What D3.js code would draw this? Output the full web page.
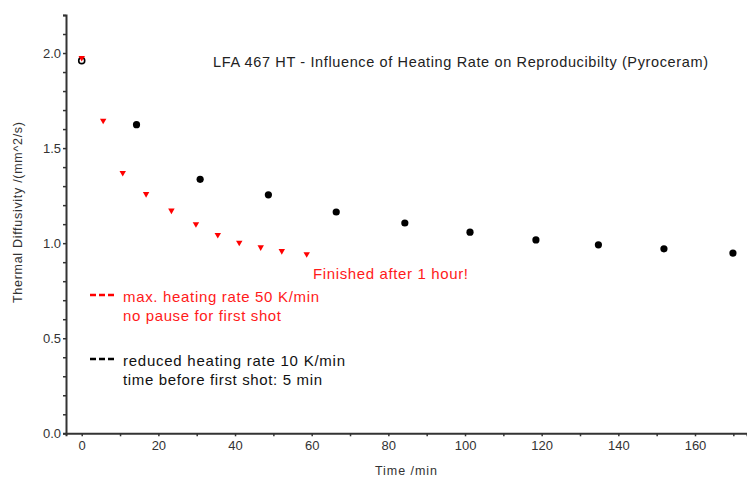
<!DOCTYPE html>
<html>
<head>
<meta charset="utf-8">
<script src="https://cdn.jsdelivr.net/npm/d3@7"></script>
<style>
  body { margin: 0; background: #fff; }
  svg text { font-family: "Liberation Sans", Arial, sans-serif; }
</style>
</head>
<body>
<div id="chart-area"></div>
<script>
// data
var fastTime = [0, 5.6, 10.7, 16.8, 23.4, 29.8, 35.5, 41.1, 46.7, 52.2, 58.7];
var fastDiff = [1.975, 1.645, 1.37, 1.259, 1.172, 1.10, 1.044, 1.003, 0.979, 0.959, 0.943];
var slowTime = [0, 14.3, 30.9, 48.7, 66.4, 84.3, 101.3, 118.5, 134.8, 151.9, 169.9];
var slowDiff = [1.96, 1.623, 1.336, 1.254, 1.164, 1.106, 1.058, 1.017, 0.991, 0.97, 0.948];
var xTicks = [0, 20, 40, 60, 80, 100, 120, 140, 160];
var yTicks = [0, 0.5, 1.0, 1.5, 2.0];

var W = 747, H = 480;
var x0 = 66, x1 = 747, yTop = 15, yBottom = 433.3;

var svg = d3.select("#chart-area")
  .append("svg")
  .attr("width", W)
  .attr("height", H);

var x = d3.scaleLinear()
  .domain([-4.1, (x1 - x0) / 3.833 - 4.1])
  .range([x0, x1]);

var y = d3.scaleLinear()
  .domain([0, 2.2])
  .range([yBottom, yTop]);

var axisColor = "#333";

// minor ticks
var xMinor = d3.range(0, 171, 10);
var yMinor = d3.range(0, 2.21, 0.1);

var xAxisCall = d3.axisBottom(x)
  .tickValues(xMinor)
  .tickSize(3)
  .tickFormat(function(d) { return xTicks.indexOf(d) >= 0 ? d : ""; });

var xAxisGroup = svg.append("g")
  .attr("transform", "translate(0," + yBottom + ")")
  .call(xAxisCall);

var yAxisCall = d3.axisLeft(y)
  .tickValues(yMinor)
  .tickSize(3)
  .tickFormat(function(d) {
    var r = Math.round(d * 10) / 10;
    return yTicks.indexOf(r) >= 0 ? d3.format(".1f")(r) : "";
  });

var yAxisGroup = svg.append("g")
  .attr("transform", "translate(" + x0 + ",0)")
  .call(yAxisCall);

[xAxisGroup, yAxisGroup].forEach(function(gr) {
  gr.select(".domain").attr("stroke", axisColor).attr("stroke-width", 2);
  gr.selectAll(".tick line").attr("stroke", axisColor).attr("stroke-width", 1.5);
  gr.selectAll(".tick text")
    .attr("fill", axisColor)
    .attr("font-size", "13px")
    .attr("font-family", "Liberation Sans, Arial, sans-serif");
});
xAxisGroup.selectAll(".tick text").attr("dy", "0.85em");
yAxisGroup.selectAll(".tick text").attr("x", -5);

// axis labels
svg.append("text")
  .attr("x", 375)
  .attr("y", 475)
  .attr("font-size", "12.5px")
  .attr("fill", axisColor)
  .attr("textLength", 62)
  .attr("lengthAdjust", "spacing")
  .text("Time /min");

svg.append("text")
  .attr("transform", "translate(22,303) rotate(-90)")
  .attr("font-size", "12.5px")
  .attr("fill", axisColor)
  .attr("textLength", 181)
  .attr("lengthAdjust", "spacing")
  .text("Thermal Diffusivity /(mm^2/s)");

// title
svg.append("text")
  .attr("x", 213)
  .attr("y", 67)
  .attr("font-size", "14.5px")
  .attr("fill", "#222")
  .attr("textLength", 495)
  .attr("lengthAdjust", "spacing")
  .text("LFA 467 HT - Influence of Heating Rate on Reproducibilty (Pyroceram)");

// annotation
svg.append("text")
  .attr("x", 313)
  .attr("y", 279)
  .attr("font-size", "15px")
  .attr("fill", "#ff1a1a")
  .attr("textLength", 155)
  .attr("lengthAdjust", "spacing")
  .text("Finished after 1 hour!");

// data points
var slow = slowTime.map(function(t, i) { return { t: t, v: slowDiff[i], i: i }; });
var fast = fastTime.map(function(t, i) { return { t: t, v: fastDiff[i] }; });

svg.selectAll("circle.slow")
  .data(slow)
  .enter()
  .append("circle")
  .attr("class", "slow")
  .attr("cx", d => x(d.t))
  .attr("cy", d => y(d.v))
  .attr("r", d => d.i === 0 ? 3 : 3.6)
  .attr("fill", d => d.i === 0 ? "#fff" : "#000")
  .attr("stroke", "#000")
  .attr("stroke-width", d => d.i === 0 ? 1.6 : 0);

var tri = d3.symbol().type(d3.symbolTriangle).size(18);

svg.selectAll("path.fast")
  .data(fast)
  .enter()
  .append("path")
  .attr("class", "fast")
  .attr("d", tri)
  .attr("transform", d => "translate(" + x(d.t) + "," + y(d.v) + ") rotate(180)")
  .attr("fill", "#ff0000");

// legend
var legendItems = [
  { color: "#ff0000", text: "#ff1a1a", lines: ["max. heating rate 50 K/min", "no pause for first shot"], widths: [196, 158], y: 295 },
  { color: "#000", text: "#111", lines: ["reduced heating rate 10 K/min", "time before first shot: 5 min"], widths: [222, 199], y: 359 }
];

var legend = svg.selectAll(".legend")
  .data(legendItems)
  .enter()
  .append("g")
  .attr("class", "legend")
  .attr("transform", d => "translate(90," + d.y + ")");

legend.append("line")
  .attr("x1", 0)
  .attr("x2", 25)
  .attr("y1", 0)
  .attr("y2", 0)
  .attr("stroke", d => d.color)
  .attr("stroke-width", 2.5)
  .attr("stroke-dasharray", "6,3");

legend.each(function(d) {
  var gr = d3.select(this);
  d.lines.forEach(function(line, i) {
    gr.append("text")
      .attr("x", 33)
      .attr("y", 7 + i * 18.5)
      .attr("font-size", "15px")
      .attr("fill", d.text)
      .attr("textLength", d.widths[i])
      .attr("lengthAdjust", "spacing")
      .text(line);
  });
});
</script>
</body>
</html>
